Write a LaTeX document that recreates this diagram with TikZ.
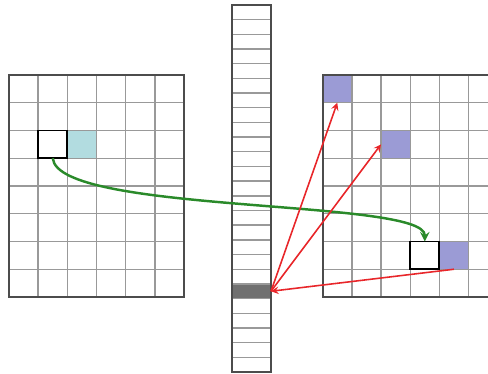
\documentclass[tikz,border=0pt]{standalone}
\usetikzlibrary{arrows,positioning}
\definecolor{cellteal}{HTML}{B2DCE0}
\definecolor{cellpurple}{HTML}{9B9BD5}
\definecolor{celldark}{HTML}{707070}
\definecolor{linkgreen}{HTML}{2A8A2A}
\definecolor{linkred}{HTML}{E8262A}

\begin{document}
\begin{tikzpicture}[
    x=0.02cm, y=-0.02cm,
    gridline/.style={gray!80, line width=0.8pt},
    frame/.style={black!70, line width=1.3pt},
    cell/.style={draw=none, rectangle, minimum width=0.5834cm, minimum height=0.555cm, inner sep=0pt, outer sep=0pt},
    slot/.style={cell, minimum width=0.78cm, minimum height=0.2936cm},
    marked/.style={cell, draw=black, line width=1.1pt},
    redarrow/.style={->, >=stealth, linkred, line width=0.9pt},
    greenarrow/.style={->, >=stealth, linkgreen, line width=1.4pt}
]

    \useasboundingbox (0,0) rectangle (488,374);
    \clip (0,0) rectangle (488,374);

    % 1. Left grid (6 x 8)
    \begin{scope}[shift={(9,75)}, xscale=29.17, yscale=27.75]
        \node[cell, fill=cellteal] (nb) at (2.5,2.5) {};
        \foreach \i in {1,...,5} \draw[gridline] (\i,0) -- (\i,8);
        \foreach \j in {1,...,7} \draw[gridline] (0,\j) -- (6,\j);
        \draw[frame] (0,0) rectangle (6,8);
        \node[marked] (src) at (1.5,2.5) {};
    \end{scope}

    % 2. Middle column (25 slots)
    \begin{scope}[shift={(232,5)}, xscale=39, yscale=14.68]
        \node[slot, fill=celldark] (key) at (0.5,19.5) {};
        \foreach \j in {1,...,24} \draw[gridline] (0,\j) -- (1,\j);
        \draw[frame] (0,0) rectangle (1,25);
    \end{scope}

    % 3. Right grid (cut by the page edge)
    \begin{scope}[shift={(322.7,75)}, xscale=29.17, yscale=27.75]
        \node[cell, fill=cellpurple] (p1) at (0.5,0.5) {};
        \node[cell, fill=cellpurple] (p2) at (2.5,2.5) {};
        \node[cell, fill=cellpurple] (p3) at (4.5,6.5) {};
        \foreach \i in {1,...,5} \draw[gridline] (\i,0) -- (\i,8);
        \foreach \j in {1,...,7} \draw[gridline] (0,\j) -- (6,\j);
        \draw[frame] (0,0) rectangle (6,8);
        \node[marked] (dst) at (3.5,6.5) {};
    \end{scope}

    % 4. Connections
    \draw[greenarrow] (src.south) .. controls +(5,56) and +(0,-43) .. (dst.north);
    \draw[redarrow] (key.east) -- (p1.south);
    \draw[redarrow] (key.east) -- (p2.west);
    \draw[redarrow] (p3.south) -- (key.east);

\end{tikzpicture}
\end{document}
